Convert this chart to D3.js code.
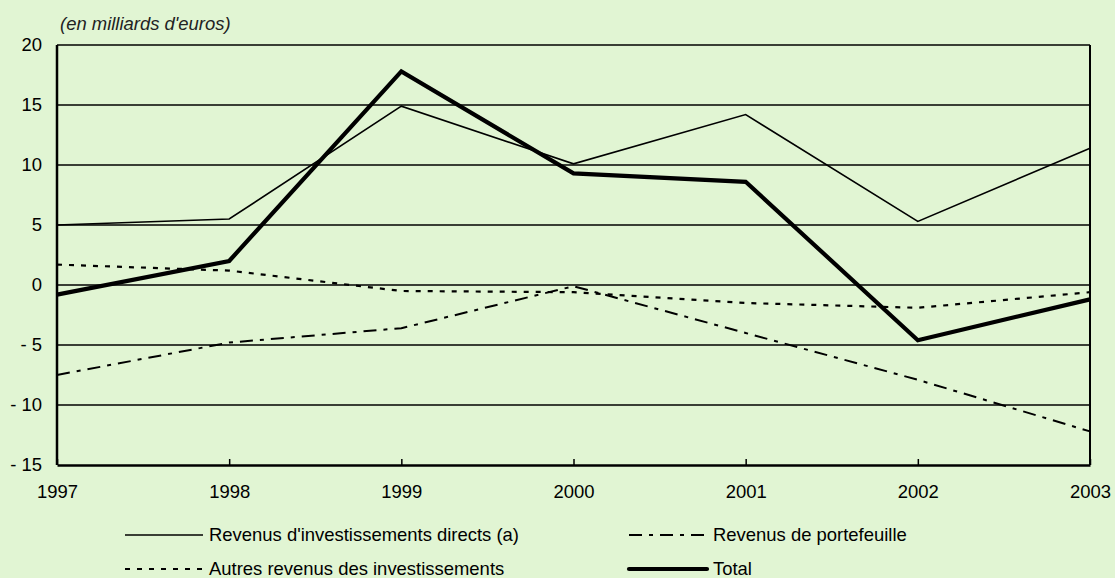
<!DOCTYPE html>
<html><head><meta charset="utf-8">
<script src="https://cdn.jsdelivr.net/npm/d3@7"></script>
<style>
html,body{margin:0;padding:0;background:#e1f5d3;}
svg{display:block;font-family:"Liberation Sans",Arial,sans-serif;}
</style></head>
<body>
<svg id="chart" width="1115" height="578"></svg>
<script>
const years = [1997, 1998, 1999, 2000, 2001, 2002, 2003];
const direct = [5.0, 5.5, 14.9, 10.1, 14.2, 5.3, 11.4];
const portfolio = [-7.5, -4.8, -3.6, -0.1, -4.0, -7.9, -12.2];
const other = [1.7, 1.2, -0.5, -0.6, -1.5, -1.9, -0.6];
const total = [-0.8, 2.0, 17.8, 9.3, 8.6, -4.6, -1.2];
const yTicks = [20, 15, 10, 5, 0, -5, -10, -15];
const unitLabel = "(en milliards d'euros)";
const seriesNames = ["Revenus d'investissements directs (a)", "Revenus de portefeuille", "Autres revenus des investissements", "Total"];

(function () {
const svg = d3.select("#chart");
const pL = 57, pR = 1090, pT = 45, pB = 465;
const FS = 17.5, SX = 1.055;
const x = d3.scalePoint().domain(years).range([pL, pR]);
const y = d3.scaleLinear().domain([-15, 20]).range([pB, pT]);

const fmt = v => v < 0 ? "- " + Math.abs(v) : String(v);
// place text at (tx,ty) with slight horizontal stretch
const place = (sel, tx, ty) => sel.attr("x", 0).attr("y", 0)
  .attr("transform", (d, i) => `translate(${typeof tx === "function" ? tx(d, i) : tx},${typeof ty === "function" ? ty(d, i) : ty}) scale(${SX},1)`);

// gridlines
svg.append("g").selectAll("line").data(yTicks.filter(v => v !== -15)).join("line")
  .attr("x1", pL).attr("x2", pR).attr("y1", d => y(d)).attr("y2", d => y(d))
  .attr("stroke", "#000").attr("stroke-width", 1.6);

// y labels
svg.append("g").selectAll("text").data(yTicks).join("text")
  .call(place, 42, d => y(d)).attr("dy", "0.35em")
  .attr("text-anchor", "end").attr("font-size", FS).attr("fill", "#000")
  .text(fmt);

// frame: left axis, right border
svg.append("line").attr("x1", pL).attr("x2", pL).attr("y1", pT).attr("y2", pB)
  .attr("stroke", "#000").attr("stroke-width", 2.5);
svg.append("line").attr("x1", pR).attr("x2", pR).attr("y1", pT).attr("y2", pB)
  .attr("stroke", "#000").attr("stroke-width", 2);

const xAxis = d3.axisBottom(x).tickSize(0).tickPadding(0).tickFormat(d => String(d));
const xg = svg.append("g").attr("transform", `translate(0,${pB})`).call(xAxis);
xg.select(".domain").attr("stroke", "#000").attr("stroke-width", 2.5);
xg.selectAll("text").call(place, 0, 27).attr("dy", "0.35em").attr("font-size", FS)
  .attr("font-family", "Liberation Sans, Arial, sans-serif").attr("fill", "#000");
xg.selectAll(".tick").append("line").attr("y1", 0).attr("y2", -6)
  .attr("stroke", "#000").attr("stroke-width", 1.5);

// title
svg.append("text").call(place, 60, 30).attr("font-size", FS)
  .attr("font-style", "italic").attr("fill", "#222").text(unitLabel);

const styles = [
  {data: direct, w: 1.6, dash: null},
  {data: portfolio, w: 2, dash: "13,7,4,7"},
  {data: other, w: 2.2, dash: "5,7"},
  {data: total, w: 4.2, dash: null}
];
const line = d3.line().x((d, i) => x(years[i])).y(d => y(d));
styles.forEach(s => {
  svg.append("path").datum(s.data).attr("d", line)
    .attr("fill", "none").attr("stroke", "#000").attr("stroke-width", s.w)
    .attr("stroke-linejoin", "miter")
    .attr("stroke-dasharray", s.dash);
});

// legend
const legPos = [
  {lx: 125, ly: 535},
  {lx: 629, ly: 535},
  {lx: 125, ly: 569},
  {lx: 629, ly: 569}
];
seriesNames.forEach((name, i) => {
  const p = legPos[i], s = styles[i];
  svg.append("line").attr("x1", p.lx).attr("x2", p.lx + 78).attr("y1", p.ly).attr("y2", p.ly)
    .attr("stroke", "#000").attr("stroke-width", s.w).attr("stroke-dasharray", s.dash)
    .attr("stroke-linecap", i === 3 ? "round" : "butt");
  svg.append("text").call(place, p.lx + 84, p.ly).attr("dy", "0.35em")
    .attr("font-size", FS).attr("fill", "#000").text(name);
});
})();
</script>
</body></html>
